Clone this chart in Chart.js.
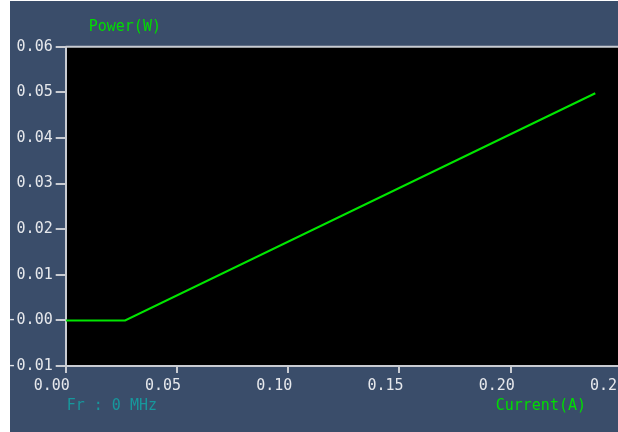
<!DOCTYPE html>
<html>
<head>
<meta charset="utf-8">
<script src="https://cdn.jsdelivr.net/npm/chart.js@4"></script>
<style>
  html, body { margin: 0; padding: 0; background: #ffffff; overflow: hidden; width: 618px; height: 432px; }
  #wrap { position: absolute; left: 10px; top: 1px; width: 640px; height: 431px; background: #3a4d6a; }
  canvas { display: block; }
</style>
</head>
<body>
<div id="wrap"><canvas id="c" width="640" height="431"></canvas></div>
<script>
// Measured laser output: power vs. drive current
const currentA = [0, 0.0267, 0.238];
const powerW   = [0, 0, 0.0498];

const xTickLabels = ['0.00', '0.05', '0.10', '0.15', '0.20', '0.25'];
const yTickLabels = ['-0.01', '-0.00', '0.01', '0.02', '0.03', '0.04', '0.05', '0.06'];

const yAxisTitle = 'Power(W)';
const xAxisTitle = 'Current(A)';
const freqLabel  = 'Fr : 0 MHz';

const MONO = "'DejaVu Sans Mono', 'Liberation Mono', monospace";
const AXIS_COLOR = '#c9ccd2';

// Black plotting field plus top border line
const plotBackground = {
  id: 'plotBackground',
  beforeDraw(chart) {
    const { ctx, chartArea: a } = chart;
    ctx.save();
    ctx.fillStyle = '#000000';
    ctx.fillRect(a.left, a.top, a.right - a.left, a.bottom - a.top);
    ctx.restore();
  },
  afterDraw(chart) {
    const { ctx, chartArea: a } = chart;
    ctx.save();
    ctx.strokeStyle = AXIS_COLOR;
    ctx.lineWidth = 2;
    ctx.beginPath();
    ctx.moveTo(a.left, a.top);
    ctx.lineTo(a.right, a.top);
    ctx.stroke();
    ctx.restore();
  }
};

// Free-standing captions around the plot
const captions = {
  id: 'captions',
  afterDraw(chart) {
    const { ctx, chartArea: a } = chart;
    ctx.save();
    ctx.font = '15px ' + MONO;
    ctx.textBaseline = 'middle';
    ctx.textAlign = 'left';
    ctx.fillStyle = '#00dd00';
    ctx.fillText(yAxisTitle, a.left + 23, 26);
    ctx.fillText(xAxisTitle, a.left + 430, a.bottom + 40);
    ctx.fillStyle = '#17979c';
    ctx.fillText(freqLabel, a.left + 1, a.bottom + 40);
    ctx.restore();
  }
};

new Chart(document.getElementById('c'), {
  type: 'scatter',
  data: {
    datasets: [{
      data: currentA.map((x, i) => ({ x, y: powerW[i] })),
      showLine: true,
      borderColor: '#00e600',
      borderWidth: 2,
      pointRadius: 0,
      tension: 0
    }]
  },
  options: {
    responsive: false,
    devicePixelRatio: 1,
    animation: false,
    layout: { padding: { top: 45.7, right: 28, bottom: 0, left: 0 } },
    plugins: { legend: { display: false }, tooltip: { enabled: false } },
    scales: {
      x: {
        type: 'linear',
        min: 0, max: 0.25,
        afterFit(scale) { scale.height = 66; },
        afterBuildTicks(scale) { scale.ticks = xTickLabels.map((t, i) => ({ value: i * 0.05 })); },
        ticks: {
          callback: (v, i) => xTickLabels[i],
          color: '#e6e8ec',
          font: { family: MONO, size: 15 },
          padding: 4,
          labelOffset: -14,
          maxRotation: 0,
          autoSkip: false
        },
        grid: { drawOnChartArea: false, drawTicks: true, tickLength: 7, color: AXIS_COLOR, lineWidth: 2 },
        border: { display: true, color: AXIS_COLOR, width: 2 }
      },
      y: {
        type: 'linear',
        min: -0.01, max: 0.06,
        afterFit(scale) { scale.width = 55.7; },
        afterBuildTicks(scale) { scale.ticks = yTickLabels.map((t, i) => ({ value: -0.01 + i * 0.01 })); },
        ticks: {
          callback: (v, i) => yTickLabels[i],
          color: '#e6e8ec',
          font: { family: MONO, size: 15 },
          padding: 3,
          autoSkip: false
        },
        grid: { drawOnChartArea: false, drawTicks: true, tickLength: 10, color: AXIS_COLOR, lineWidth: 2 },
        border: { display: true, color: AXIS_COLOR, width: 2 }
      }
    }
  },
  plugins: [plotBackground, captions]
});
</script>
</body>
</html>
